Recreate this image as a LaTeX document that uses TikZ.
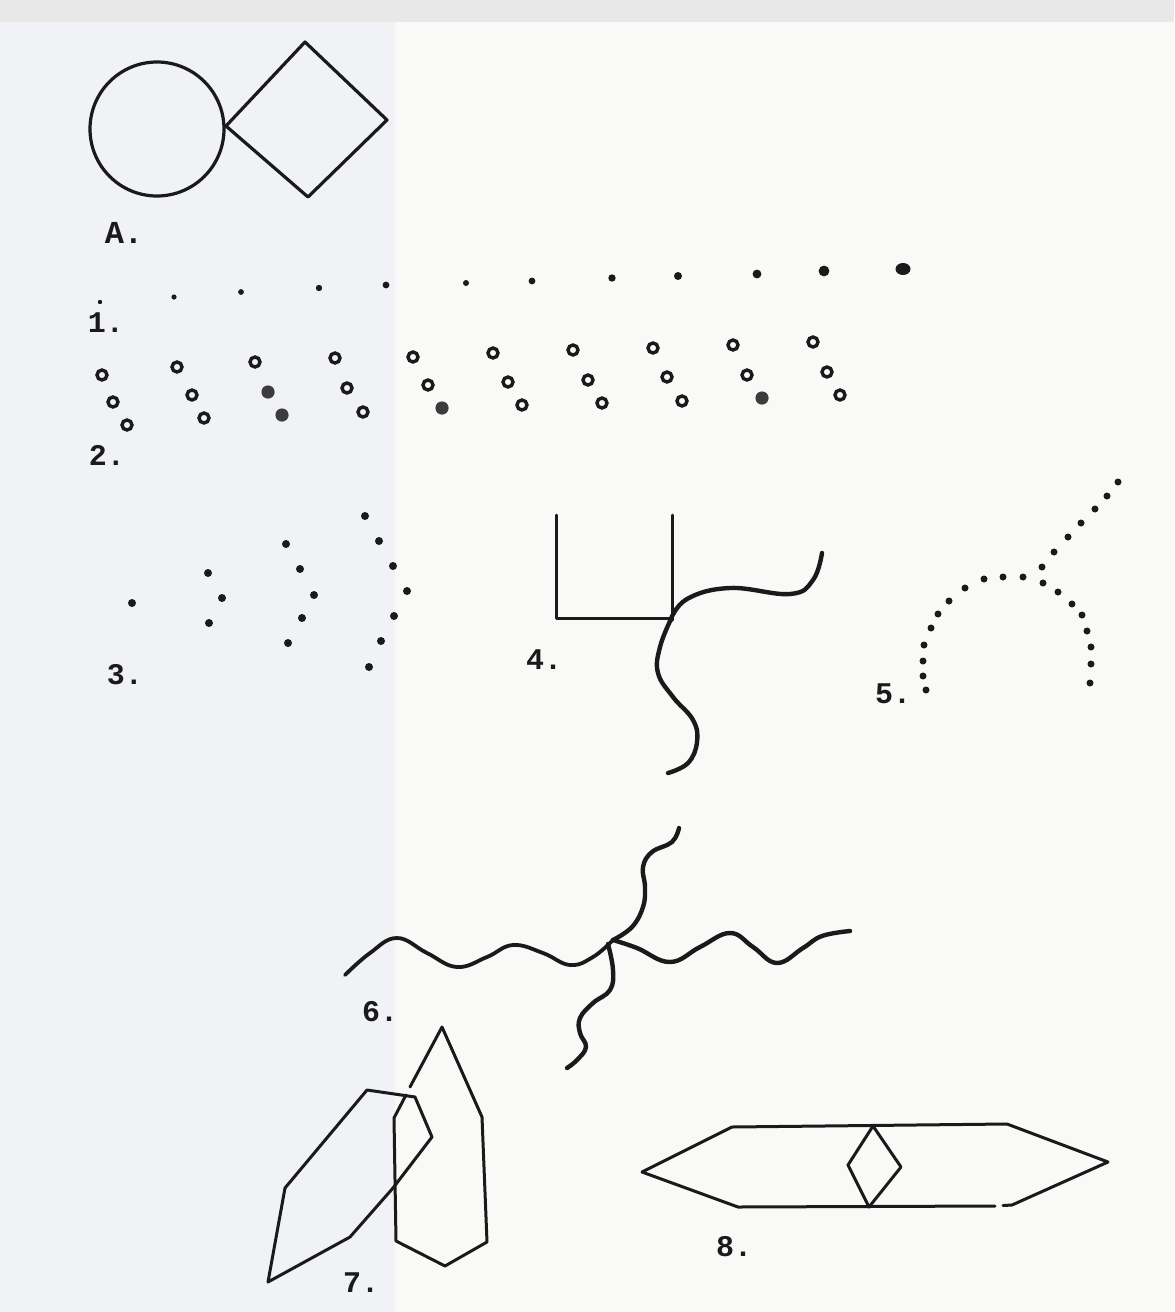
\documentclass[tikz,border=0pt]{standalone}
\usepackage{fontspec}
\setmonofont{Liberation Mono}
\begin{document}
\begin{tikzpicture}[x=0.5pt,y=-0.5pt,
  ink/.style={draw=inkc,line width=1.5pt,line join=round,line cap=round},
  wavy/.style={draw=inkc,line width=2.2pt,line cap=round,line join=round},
  lbl/.style={font=\ttfamily\bfseries\fontsize{15}{17}\selectfont,text=inkc,inner sep=0pt},
  ring/.style={draw=inkc,line width=1.7pt},
]
\definecolor{inkc}{HTML}{1A1A1A}
\definecolor{paper}{HTML}{F9F9F7}
\definecolor{paperl}{HTML}{F0F2F5}
\definecolor{papert}{HTML}{E8E8E8}
% background
\fill[paper] (0,0) rectangle (1174,1312);
\fill[paperl] (0,0) rectangle (395,1312);
\fill[papert] (0,0) rectangle (1174,22);
\useasboundingbox (0,0) rectangle (1174,1312);

% ---- A ----
\draw[ink,line width=1.6pt] (157,129) circle (67);
\draw[ink,line width=1.6pt] (226,126) -- (305,42) -- (387,120) -- (308,197) -- cycle;
\node[lbl,font=\ttfamily\bfseries\fontsize{16}{18}\selectfont] (labA) at (124,233) {A.};

% ---- 1 ----
\foreach \x/\y/\r in {100/302/2.2,174/297/2.6,241/292/2.9,319/288/3.2,386/285/3.4,466/283/3,532/281/3.4,612/278/3.7,678/276/4,757/274/4.4,824/271/5.4}
  \fill[inkc] (\x,\y) circle (\r);
\fill[inkc] (903,269) ellipse (7.5 and 6);
\node[lbl] (lab1) at (106,323) {1.};

% ---- 2 ----
\foreach \x/\y in {102/375,113/402,127/425, 177/367,192/395,204/418, 255/362, 335/358,347/388,363/412, 413/357,428/385, 493/353,508/382,522/405, 573/350,588/380,602/403, 653/348,667/377,682/401, 733/345,747/375, 813/342,827/372,840/395}
  \draw[ring] (\x,\y) circle (5);
\foreach \x/\y in {268/392,282/415,442/408,762/398}
  \fill[inkc!85] (\x,\y) circle (6.6);
\node[lbl] (lab2) at (107,455) {2.};

% ---- 3 ----
\foreach \x/\y in {132/603, 208/573,222/598,209/623, 286/544,300/569,314/595,302/618,288/643, 365/516,379/541,393/566,407/591,394/616,381/641,369/667}
  \fill[inkc] (\x,\y) circle (4);
\node[lbl] (lab3) at (125,675) {3.};

% ---- 4 ----
\draw[ink] (556,515) -- (556,618) -- (671,618);
\draw[ink] (672,515) -- (672,620);
\draw[wavy] plot[smooth,tension=0.7] coordinates {(670,621) (687,599) (730,588) (790,594) (813,580) (822,553)};
\draw[wavy] plot[smooth,tension=0.7] coordinates {(671,619) (660,647) (658,673) (673,697) (693,720) (697,742) (688,763) (668,773)};
\node[lbl] (lab4) at (544,660) {4.};

% ---- 5 ----
\foreach \x/\y in {1118/482,1107/496,1095/509,1081/523,1068/537,1054/552,1042/567,1043/583,
  1058/592,1072/604,1082/615,1087/631,1091/647,1091/664,1090/683,
  1023/577,1003/577,984/579,965/588,949/601,938/614,931/628,924/645,923/661,923/676,926/690}
  \fill[inkc] (\x,\y) circle (3.5);
\node[lbl] (lab5) at (893,694) {5.};

% ---- 6 ----
\draw[wavy,line width=1.9pt] plot[smooth,tension=0.7] coordinates {(345,975) (370,953) (397,938) (427,953) (457,967) (487,957) (513,945) (543,953) (570,965) (593,957) (613,940)};
\draw[wavy] plot[smooth,tension=0.7] coordinates {(613,940) (637,948) (670,962) (700,947) (730,933) (753,947) (777,963) (803,948) (822,936) (850,931)};
\draw[wavy] plot[smooth,tension=0.7] coordinates {(613,940) (632,927) (643,907) (645,887) (643,867) (652,852) (672,842) (679,828)};
\draw[wavy] plot[smooth,tension=0.7] coordinates {(608,944) (613,970) (610,990) (593,1003) (580,1018) (580,1033) (586,1047) (577,1060) (567,1068)};
\node[lbl] (lab6) at (380,1012) {6.};

% ---- 7 ----
\draw[ink] (367,1090) -- (415,1097) -- (432,1137) -- (393,1188) -- (350,1237) -- (268,1282) -- (285,1188) -- cycle;
\draw[ink] (410,1087) -- (442,1027) -- (482,1117) -- (487,1242) -- (445,1266) -- (396,1241) -- (394,1118) -- (406,1095);
\node[lbl] (lab7) at (361,1283) {7.};

% ---- 8 ----
\draw[ink] (995,1206) -- (738,1207) -- (642,1172) -- (732,1127) -- (1007,1124) -- (1108,1162) -- (1012,1205) -- (1003,1205.5);
\draw[ink] (873,1126) -- (901,1167) -- (869,1207) -- (848,1165) -- cycle;
\node[lbl] (lab8) at (734,1247) {8.};
\end{tikzpicture}
\end{document}
